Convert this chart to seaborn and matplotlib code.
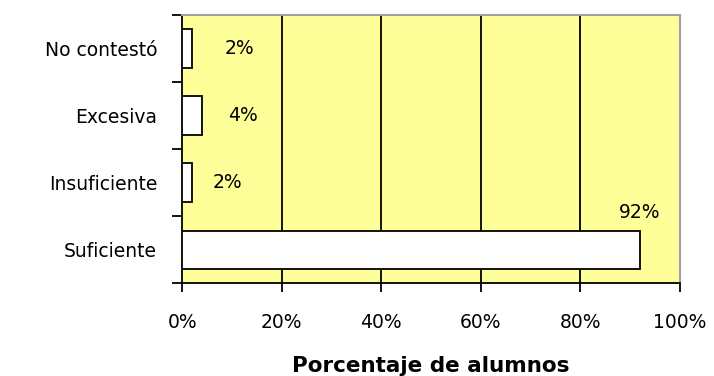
import matplotlib
matplotlib.use("Agg")
import matplotlib.pyplot as plt
import seaborn as sns
import pandas as pd
from matplotlib.ticker import FixedLocator

categorias = ["No contestó", "Excesiva", "Insuficiente", "Suficiente"]
porcentajes = [2, 4, 2, 92]
etiquetas = ["2%", "4%", "2%", "92%"]
ticks_x = [0, 20, 40, 60, 80, 100]
ticks_x_txt = ["0%", "20%", "40%", "60%", "80%", "100%"]

df = pd.DataFrame({"categoria": categorias, "porcentaje": porcentajes})

sns.set_style("white")
plt.rcParams["font.family"] = ["DejaVu Sans"]
plt.rcParams["text.color"] = "black"
plt.rcParams["xtick.color"] = "black"
plt.rcParams["ytick.color"] = "black"
plt.rcParams["axes.labelcolor"] = "black"

fig = plt.figure(figsize=(7.14, 3.76), dpi=100)
ax = fig.add_axes([0.255, 0.247, 0.697, 0.713])
ax.set_facecolor("#FFFF99")

sns.barplot(data=df, x="porcentaje", y="categoria", order=categorias,
            orient="h", color="white", edgecolor="black", linewidth=1.3,
            width=0.57, saturation=1, ax=ax, zorder=3)

ax.set_xlim(0, 100)
ax.set_ylim(3.5, -0.5)

# vertical gridlines at the inner x ticks
for v in ticks_x[1:-1]:
    ax.axvline(v, color="black", lw=1.3, zorder=1)

ax.set_xticks(ticks_x)
ax.set_xticklabels(ticks_x_txt, fontsize=13.5)
ax.tick_params(axis="x", bottom=True, direction="out", length=6.5, width=1.3,
               color="black", labelcolor="black", pad=15)

ax.set_yticks(range(len(categorias)))
ax.set_yticklabels(categorias, fontsize=13.5)
ax.tick_params(axis="y", which="major", left=True, length=0, pad=18, labelcolor="black")
ax.yaxis.set_minor_locator(FixedLocator([-0.5, 0.5, 1.5, 2.5, 3.5]))
ax.tick_params(axis="y", which="minor", left=True, direction="out", length=7.2,
               width=1.3, color="black")

ax.set_ylabel("")
ax.set_xlabel("Porcentaje de alumnos", fontsize=15.5, fontweight="bold", labelpad=17)

for s in ["left", "bottom"]:
    ax.spines[s].set_color("black")
    ax.spines[s].set_linewidth(1.3)
for s in ["top", "right"]:
    ax.spines[s].set_color("#A0A0A0")
    ax.spines[s].set_linewidth(1.5)

# value labels
pos_x = [11.6, 12.2, 9.2, 92]
pos_y = [0, 1, 2, 2.45]
for x, y, t in zip(pos_x, pos_y, etiquetas):
    ax.text(x, y, t, ha="center", va="center", fontsize=13.5, color="black", zorder=4)

fig.savefig("out.png", dpi=100, facecolor="white")
